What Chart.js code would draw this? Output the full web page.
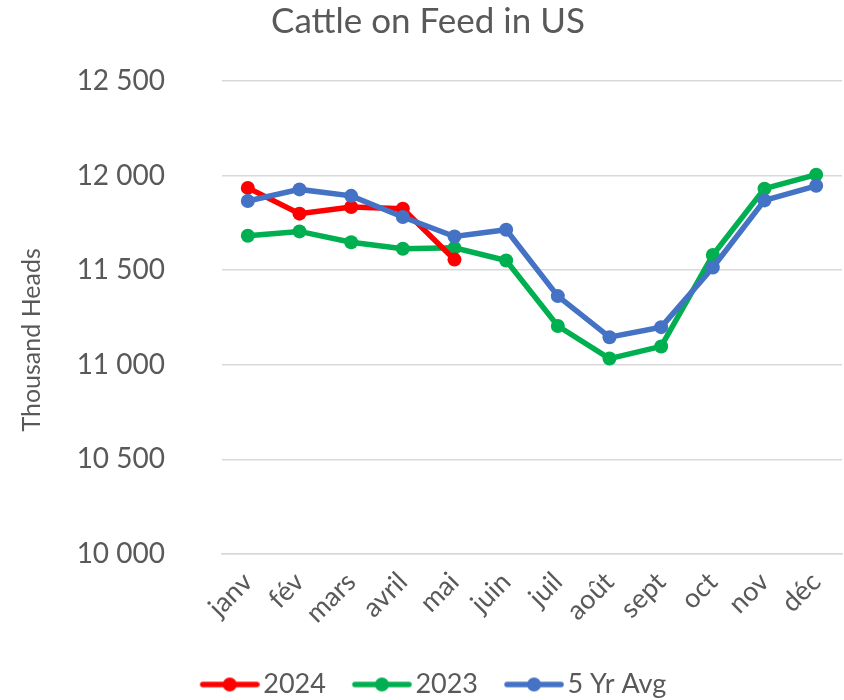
<!DOCTYPE html>
<html>
<head>
<meta charset="utf-8">
<script src="https://cdn.jsdelivr.net/npm/chart.js@4"></script>
<style>
  body { margin: 0; background: #fff; }
  #wrap { width: 844px; height: 700px; }
</style>
</head>
<body>
<div id="wrap"><canvas id="myChart" width="844" height="700"></canvas></div>
<script>
'use strict';

const months = ['janv', 'fév', 'mars', 'avril', 'mai', 'juin', 'juil', 'août', 'sept', 'oct', 'nov', 'déc'];
const heads2024 = [11935, 11799, 11834, 11825, 11556, null, null, null, null, null, null, null];
const heads2023 = [11682, 11705, 11648, 11613, 11618, 11551, 11205, 11033, 11097, 11580, 11931, 12005];
const avg5yr = [11866, 11927, 11893, 11781, 11678, 11714, 11363, 11146, 11199, 11514, 11869, 11946];
const yTicks = [10000, 10500, 11000, 11500, 12000, 12500];

const fontFamily = 'Lato, "Open Sans", sans-serif';
const textColor = '#595959';
const gridColor = '#d9d9d9';

// legend marker: line with a dot, shifted right so it sits close to the text
function legendMarker(color) {
  let c = document.createElement('canvas');
  c.width = 80;
  c.height = 18;
  let g = c.getContext('2d');
  g.strokeStyle = color;
  g.lineWidth = 5.5;
  g.lineCap = 'round';
  g.beginPath();
  g.moveTo(23, 9);
  g.lineTo(77, 9);
  g.stroke();
  g.fillStyle = color;
  g.beginPath();
  g.arc(50, 9, 7, 0, Math.PI * 2);
  g.fill();
  return c;
}

function makeSeries(label, data, color, order) {
  return {
    label: label,
    data: data,
    order: order,
    borderColor: color,
    backgroundColor: color,
    borderWidth: 5.5,
    pointRadius: 7,
    pointHoverRadius: 7,
    pointBorderWidth: 0,
    tension: 0,
    spanGaps: false,
    pointStyle: 'circle',
    legendMarker: legendMarker(color)
  };
}

const ctx = document.getElementById('myChart');

let config = {
  type: 'line',
  data: {
    labels: months,
    datasets: [
      makeSeries('2024', heads2024, '#ff0000', 2),
      makeSeries('2023', heads2023, '#00b050', 3),
      makeSeries('5 Yr Avg', avg5yr, '#4472c4', 1)
    ]
  },
  options: {
    responsive: false,
    animation: false,
    layout: {
      autoPadding: false,   // plot runs to the right edge like Excel
      padding: { left: 14, right: 2, top: 0, bottom: -8 }
    },
    plugins: {
      tooltip: { enabled: false },
      title: {
        display: true,
        text: 'Cattle on Feed in US',
        color: textColor,
        font: { family: fontFamily, size: 35, weight: 'normal' },
        padding: { top: 1, bottom: 38 }
      },
      legend: {
        position: 'bottom',
        labels: {
          color: textColor,
          font: { family: fontFamily, size: 27 },
          usePointStyle: true,
          pointStyleWidth: 60,
          padding: 16,
          sort: (a, b) => a.datasetIndex - b.datasetIndex,
          generateLabels: (chart) => {
            let items = Chart.defaults.plugins.legend.labels.generateLabels(chart);
            items.forEach((item) => {
              item.pointStyle = chart.data.datasets[item.datasetIndex].legendMarker;
            });
            return items;
          }
        }
      }
    },
    scales: {
      x: {
        offset: true,
        grid: { display: false, drawTicks: false },
        border: { display: true, color: gridColor, width: 1.5 },
        ticks: {
          color: textColor,
          font: { family: fontFamily, size: 27 },
          minRotation: 45,
          maxRotation: 45,
          padding: 12
        },
        afterFit: (scale) => {
          scale.height = 101;
          scale.paddingRight = 0;
        }
      },
      y: {
        min: 10000,
        max: 12500,
        afterBuildTicks: (scale) => {
          scale.ticks = yTicks.map((v) => ({ value: v }));
        },
        grid: { color: gridColor, lineWidth: 1.5, drawTicks: false },
        border: { display: false },
        ticks: {
          color: textColor,
          font: { family: fontFamily, size: 28 },
          padding: 57,
          callback: (v) => String(v).replace(/\B(?=(\d{3})+(?!\d))/g, ' ')
        },
        title: {
          display: true,
          // trailing spaces push the rotated title a little lower, as in Excel
          text: 'Thousand Heads\u00A0\u00A0\u00A0\u00A0\u00A0\u00A0\u00A0',
          color: textColor,
          font: { family: fontFamily, size: 25 },
          padding: { top: 3, bottom: 0 }
        },
        afterFit: (scale) => { scale.width = 208; }
      }
    }
  }
};

new Chart(ctx, config);
</script>
</body>
</html>
